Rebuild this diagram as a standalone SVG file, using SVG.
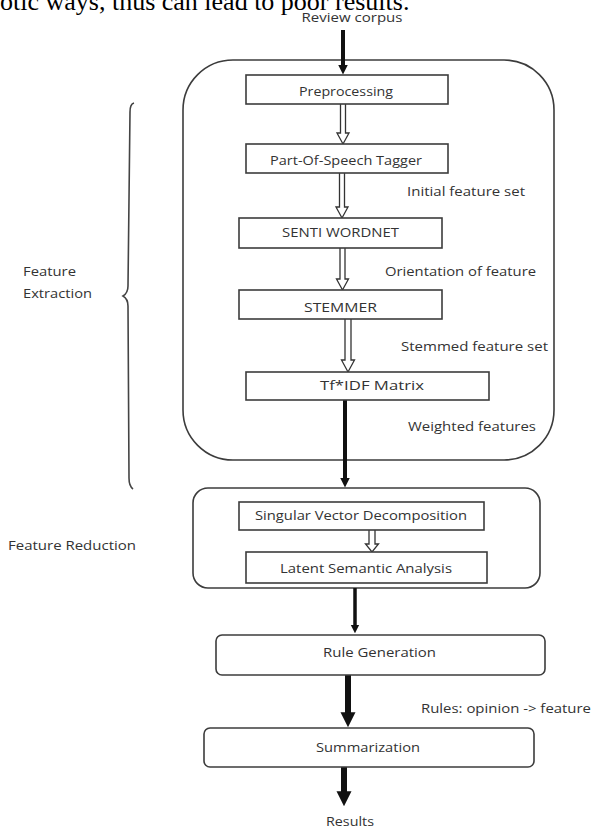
<svg xmlns="http://www.w3.org/2000/svg" width="593" height="830" viewBox="0 0 593 830">
<defs>
<marker id="head" viewBox="0 0 10 10" refX="0.5" refY="5" markerWidth="2.5" markerHeight="2.6" orient="auto" markerUnits="strokeWidth"><path d="M0,0 L10,5 L0,10 z" fill="#111"/></marker>
</defs>
<style>
.box{fill:#fff;stroke:#3c3c3c;stroke-width:1.6}
.grp{fill:none;stroke:#3c3c3c;stroke-width:1.6}
.lbl{font-family:"Open Sans","DejaVu Sans",sans-serif;font-size:12.5px;fill:#333}
.c{text-anchor:middle}
.thick{stroke:#111;fill:none}
.hollow{fill:#fff;stroke:#333;stroke-width:1.3}
.brace{fill:none;stroke:#444;stroke-width:1.6}
.para{font-family:"Liberation Serif","Times New Roman",serif;font-size:26px;fill:#000}
</style>
<rect x="0" y="0" width="593" height="830" fill="#fff"/>
<text class="para" x="0" y="10">otic ways, thus can lead to poor results.</text>

<g id="feature-extraction-group">
<rect class="grp" x="183" y="60" width="371" height="400" rx="50" ry="50"/>
</g>
<g id="feature-reduction-group">
<rect class="grp" x="193" y="488" width="347" height="100" rx="15" ry="15"/>
</g>

<g id="connectors">
<line class="thick" x1="343" y1="30" x2="343" y2="65" stroke-width="4" marker-end="url(#head)"/>
<line class="thick" x1="345" y1="400" x2="345" y2="478" stroke-width="4" marker-end="url(#head)"/>
<line class="thick" x1="355" y1="588" x2="355" y2="625" stroke-width="3.5" marker-end="url(#head)"/>
<line class="thick" x1="348" y1="675" x2="348" y2="713" stroke-width="6" marker-end="url(#head)"/>
<line class="thick" x1="344" y1="767" x2="344" y2="792" stroke-width="6" marker-end="url(#head)"/>
<path class="hollow" d="M340.5,104 V133 H337 L343,144 L349,133 H345.5 V104"/>
<path class="hollow" d="M339.5,173 V207 H336 L342,218 L348,207 H344.5 V173"/>
<path class="hollow" d="M340,248 V279 H336.5 L342.5,290 L348.5,279 H345 V248"/>
<path class="hollow" d="M345,319 V360 H341.5 L348,372 L354.5,360 H351 V319"/>
<path class="hollow" d="M369,530 V544 H365.5 L372,552 L378.5,544 H375 V530"/>
</g>

<g id="brace">
<path class="brace" d="M134,103 Q130,104 130,112 L128,286 Q128,293 123,296 Q128,299 128,306 L129,478 Q129,486 133,489"/>
</g>

<g id="review-corpus"><text class="lbl c" x="352" y="22" font-size="12" textLength="101" lengthAdjust="spacingAndGlyphs">Review corpus</text></g>
<g id="preprocessing"><rect class="box" x="246" y="75" width="202" height="29"/><text class="lbl c" x="346" y="96" textLength="94" lengthAdjust="spacingAndGlyphs">Preprocessing</text></g>
<g id="pos-tagger"><rect class="box" x="246" y="144" width="202" height="29"/><text class="lbl c" x="346" y="165" textLength="152" lengthAdjust="spacingAndGlyphs">Part-Of-Speech Tagger</text></g>
<g id="lbl-initial"><text class="lbl c" x="466" y="196" textLength="118" lengthAdjust="spacingAndGlyphs">Initial feature set</text></g>
<g id="sentiwordnet"><rect class="box" x="239" y="218" width="203" height="30"/><text class="lbl c" x="340.5" y="237" textLength="117" lengthAdjust="spacingAndGlyphs">SENTI WORDNET</text></g>
<g id="lbl-orientation"><text class="lbl c" x="460.5" y="276" textLength="151" lengthAdjust="spacingAndGlyphs">Orientation of feature</text></g>
<g id="stemmer"><rect class="box" x="239" y="290" width="203" height="29"/><text class="lbl c" x="340.5" y="312" textLength="73" lengthAdjust="spacingAndGlyphs">STEMMER</text></g>
<g id="lbl-stemmed"><text class="lbl c" x="474.5" y="351" textLength="147" lengthAdjust="spacingAndGlyphs">Stemmed feature set</text></g>
<g id="tfidf"><rect class="box" x="246" y="372" width="243" height="28"/><text class="lbl c" x="372" y="390" textLength="104" lengthAdjust="spacingAndGlyphs">Tf*IDF Matrix</text></g>
<g id="lbl-weighted"><text class="lbl c" x="472" y="431" textLength="128" lengthAdjust="spacingAndGlyphs">Weighted features</text></g>
<g id="lbl-feature-extraction"><text class="lbl" x="23" y="276" textLength="53" lengthAdjust="spacingAndGlyphs">Feature</text><text class="lbl" x="23" y="298" textLength="69" lengthAdjust="spacingAndGlyphs">Extraction</text></g>
<g id="lbl-feature-reduction"><text class="lbl" x="8" y="550" textLength="128" lengthAdjust="spacingAndGlyphs">Feature Reduction</text></g>
<g id="svd"><rect class="box" x="239" y="502" width="245" height="28"/><text class="lbl c" x="361" y="520" textLength="212" lengthAdjust="spacingAndGlyphs">Singular Vector Decomposition</text></g>
<g id="lsa"><rect class="box" x="246" y="552" width="241" height="31"/><text class="lbl c" x="366" y="573" textLength="172" lengthAdjust="spacingAndGlyphs">Latent Semantic Analysis</text></g>
<g id="rule-generation"><rect class="box" x="216" y="635" width="329" height="40" rx="6" ry="6"/><text class="lbl c" x="379.5" y="657" textLength="113" lengthAdjust="spacingAndGlyphs">Rule Generation</text></g>
<g id="lbl-rules"><text class="lbl" x="421" y="713" textLength="170" lengthAdjust="spacingAndGlyphs">Rules: opinion -&gt; feature</text></g>
<g id="summarization"><rect class="box" x="204" y="728" width="330" height="39" rx="6" ry="6"/><text class="lbl c" x="368" y="752" textLength="104" lengthAdjust="spacingAndGlyphs">Summarization</text></g>
<g id="results"><text class="lbl c" x="350" y="826" font-size="12" textLength="48" lengthAdjust="spacingAndGlyphs">Results</text></g>
</svg>
